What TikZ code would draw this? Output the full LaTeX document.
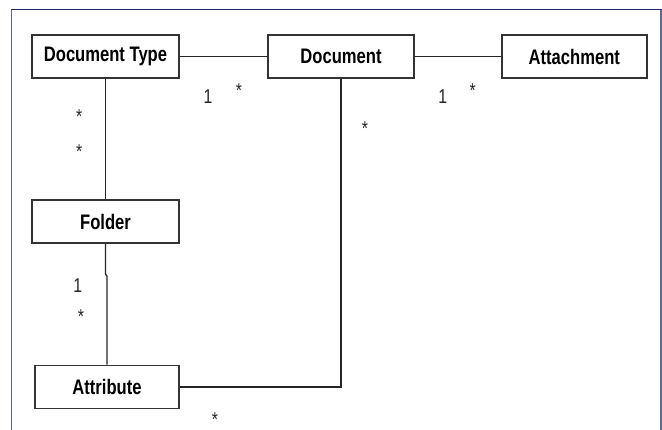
\documentclass[tikz,border=0pt]{standalone}
\usepackage{fontspec}
\setmainfont{Liberation Sans}[FakeStretch=0.79]
\definecolor{frametop}{RGB}{30,45,105}
\definecolor{frameside}{RGB}{90,105,155}
\begin{document}
\begin{tikzpicture}[x=1pt,y=-1pt,
  cls/.style={draw=black!80, line width=1.6pt, fill=white, minimum width=147pt,
    minimum height=43pt, inner sep=0pt, font=\bfseries\fontsize{21}{25}\selectfont},
  conn/.style={draw=black!85, line width=1.3pt},
  mult/.style={anchor=base, inner sep=0pt, font=\fontsize{20}{24}\selectfont, text=black!85}]
\useasboundingbox (0,0) rectangle (662,429);
\fill[white] (0,0) rectangle (662,429);
\draw[line width=1.5pt, frameside] (11.7,440) -- (11.7,9.5);
\draw[line width=1.5pt, frameside] (661,9.5) -- (661,440);
\draw[line width=1.5pt, frametop] (11,9.5) -- (661.7,9.5);

\node[cls] (doctype) at (105.5,56.5) {Document Type};
\node[cls, minimum width=146pt] (document) at (341,56.5) {Document};
\node[cls, minimum width=145pt] (attachment) at (574.3,56.5) {Attachment};
\node[cls] (folder) at (105.5,221.7) {Folder};
\node[cls, minimum width=144pt] (attribute) at (107,387) {Attribute};

\coordinate (j1) at (105.5,274);
\coordinate (j2) at (107,276);

\draw[conn] (doctype.east) -- (document.west);
\draw[conn] (document.east) -- (attachment.west);
\draw[conn] (doctype.south) -- (folder.north);
\draw[conn] (folder.south) -- (j1) -- (j2) -- (attribute.north);
\draw[conn] (document.south) |- (attribute.east);

\node[mult] (m1) at (208,103) {1};
\node[mult] (m2) at (239,97) {*};
\node[mult] (m3) at (442.7,103) {1};
\node[mult] (m4) at (472.7,97) {*};
\node[mult] (m5) at (79.3,123) {*};
\node[mult] (m6) at (79.3,158.5) {*};
\node[mult] (m7) at (365,135.5) {*};
\node[mult] (m8) at (77.7,292) {1};
\node[mult] (m9) at (81,323.5) {*};
\node[mult] (m10) at (215,412) {\raisebox{-14.5pt}[0pt][0pt]{*}};
\end{tikzpicture}
\end{document}
